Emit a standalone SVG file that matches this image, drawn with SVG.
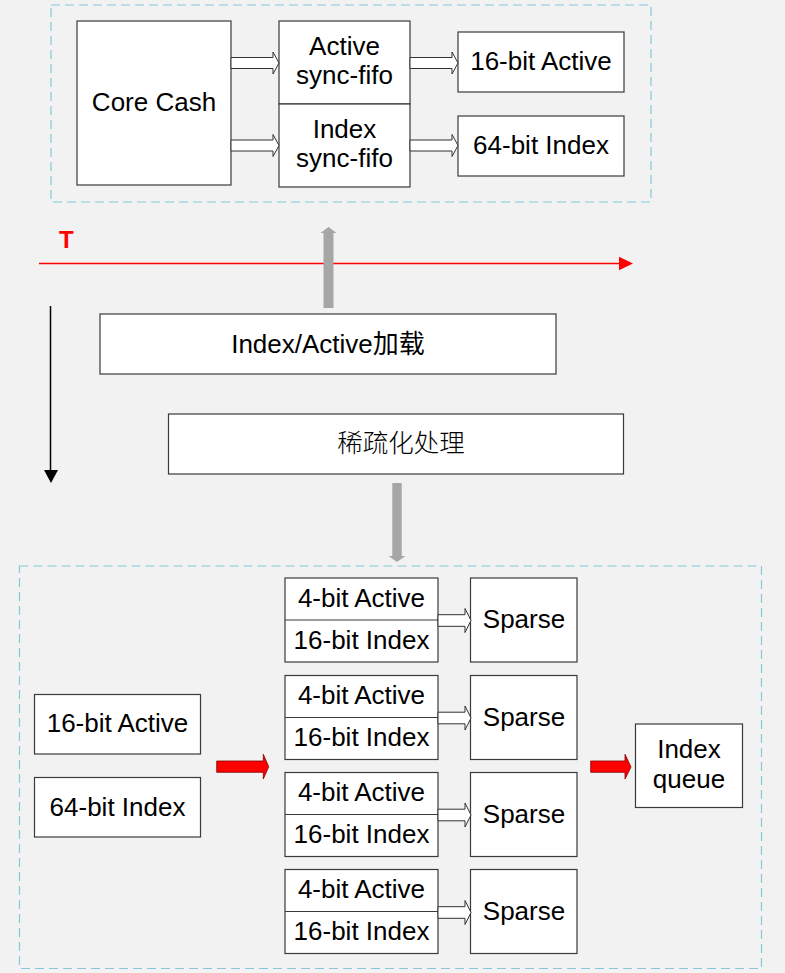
<svg xmlns="http://www.w3.org/2000/svg" width="785" height="973" viewBox="0 0 785 973">
<style>
.bg{fill:#f2f2f2}
.frame{fill:none;stroke:#86c8dc;stroke-width:1.2;stroke-dasharray:9 5}
.box{fill:#ffffff;stroke:#3a3a3a;stroke-width:1.2}
.div{stroke:#3a3a3a;stroke-width:1.2}
.t{font-family:"Liberation Sans",Arial,sans-serif;font-size:26px;fill:#000;text-anchor:middle}
.cjk{font-family:"Liberation Sans","Noto Sans CJK SC",sans-serif;font-size:26px;fill:#000;text-anchor:middle}
.cjk2{font-family:"Noto Sans CJK SC",sans-serif;font-size:25.5px;fill:#000;text-anchor:middle;font-weight:300}
.hollow{fill:#ffffff;stroke:#333333;stroke-width:1}
.gray{fill:#a6a6a6;stroke:none}
.red{fill:#ff0000;stroke:#7f0000;stroke-width:0.8}
</style>
<rect class="bg" x="0" y="0" width="785" height="973"/>

<g id="top-frame"><rect class="frame" x="51" y="5" width="600" height="197"/></g>
<g id="bottom-frame"><rect class="frame" x="19.5" y="566" width="742" height="402.5"/></g>

<g id="core-cash">
<rect class="box" x="77" y="21" width="154" height="164"/>
<text class="t" x="154" y="111">Core Cash</text>
</g>
<g id="active-fifo">
<rect class="box" x="279" y="21" width="131" height="83"/>
<text class="t" x="344.5" y="55">Active</text>
<text class="t" x="344.5" y="84">sync-fifo</text>
</g>
<g id="index-fifo">
<rect class="box" x="279" y="104" width="131" height="83"/>
<text class="t" x="344.5" y="138">Index</text>
<text class="t" x="344.5" y="167">sync-fifo</text>
</g>
<g id="top-16bit-active">
<rect class="box" x="458" y="32" width="166" height="60"/>
<text class="t" x="541" y="70">16-bit Active</text>
</g>
<g id="top-64bit-index">
<rect class="box" x="458" y="116" width="166" height="60"/>
<text class="t" x="541" y="154">64-bit Index</text>
</g>

<g id="time-label"><text x="59" y="248" style="font-family:'Liberation Sans',Arial,sans-serif;font-size:24px;font-weight:bold;fill:#ff0000">T</text></g>

<g id="load">
<rect class="box" x="100" y="314" width="456" height="60"/>
<text class="cjk" x="328" y="353">Index/Active加载</text>
</g>
<g id="sparse-proc">
<rect class="box" x="168.5" y="414" width="455" height="60"/>
<text class="cjk2" x="401" y="452">稀疏化处理</text>
</g>

<g id="bottom-16bit-active">
<rect class="box" x="34.5" y="694.5" width="166" height="59.5"/>
<text class="t" x="117.5" y="732">16-bit Active</text>
</g>
<g id="bottom-64bit-index">
<rect class="box" x="34.5" y="777.5" width="166" height="59.5"/>
<text class="t" x="117.5" y="815.5">64-bit Index</text>
</g>

<g id="lane1">
<rect class="box" x="285" y="578" width="153" height="84"/>
<line class="div" x1="285" y1="620" x2="438" y2="620"/>
<text class="t" x="361.5" y="606.5">4-bit Active</text>
<text class="t" x="361.5" y="648.5">16-bit Index</text>
</g>
<g id="sparse1">
<rect class="box" x="470.5" y="578" width="106.5" height="84"/>
<text class="t" x="524" y="628">Sparse</text>
</g>
<g id="lane2">
<rect class="box" x="285" y="675.5" width="153" height="84"/>
<line class="div" x1="285" y1="717.5" x2="438" y2="717.5"/>
<text class="t" x="361.5" y="704">4-bit Active</text>
<text class="t" x="361.5" y="746">16-bit Index</text>
</g>
<g id="sparse2">
<rect class="box" x="470.5" y="675.5" width="106.5" height="84"/>
<text class="t" x="524" y="725.5">Sparse</text>
</g>
<g id="lane3">
<rect class="box" x="285" y="772.5" width="153" height="84"/>
<line class="div" x1="285" y1="814.5" x2="438" y2="814.5"/>
<text class="t" x="361.5" y="801">4-bit Active</text>
<text class="t" x="361.5" y="843">16-bit Index</text>
</g>
<g id="sparse3">
<rect class="box" x="470.5" y="772.5" width="106.5" height="84"/>
<text class="t" x="524" y="822.5">Sparse</text>
</g>
<g id="lane4">
<rect class="box" x="285" y="869.5" width="153" height="84"/>
<line class="div" x1="285" y1="911.5" x2="438" y2="911.5"/>
<text class="t" x="361.5" y="898">4-bit Active</text>
<text class="t" x="361.5" y="940">16-bit Index</text>
</g>
<g id="sparse4">
<rect class="box" x="470.5" y="869.5" width="106.5" height="84"/>
<text class="t" x="524" y="919.5">Sparse</text>
</g>

<g id="index-queue">
<rect class="box" x="635.5" y="724" width="107" height="83.5"/>
<text class="t" x="689" y="758">Index</text>
<text class="t" x="689" y="787.5">queue</text>
</g>

<g id="connectors">
<polygon class="hollow" points="231,57.5 273,57.5 273,52 279,63 273,74 273,68.5 231,68.5"/>
<polygon class="hollow" points="231,140 273,140 273,134.5 279,145.5 273,156.5 273,151 231,151"/>
<polygon class="hollow" points="410,57.5 452,57.5 452,52 458,63 452,74 452,68.5 410,68.5"/>
<polygon class="hollow" points="410,140 452,140 452,134.5 458,145.5 452,156.5 452,151 410,151"/>

<line x1="39" y1="263.5" x2="621" y2="263.5" stroke="#ff0000" stroke-width="1.5"/>
<polygon points="619,256.7 633,263.5 619,270.3" fill="#ff0000"/>

<polygon class="gray" points="323.5,308 323.5,233 320.5,233 328.5,227 336.5,233 333.5,233 333.5,308"/>
<polygon class="gray" points="392.3,483 401.7,483 401.7,556 405.5,556 397,562 388.5,556 392.3,556"/>

<line x1="50.5" y1="306" x2="50.5" y2="471" stroke="#000" stroke-width="1.5"/>
<polygon points="44,470 58,470 51,483" fill="#000"/>

<polygon class="red" points="216.7,761 263.3,761 263.3,754.3 268.7,766.7 263.3,779 263.3,772.3 216.7,772.3"/>
<polygon class="red" points="590.7,761 625,761 625,754.3 631,767 625,779 625,772.3 590.7,772.3"/>

<polygon class="hollow" points="438,614.7 465,614.7 465,608.5 471,620.5 465,632.5 465,626.3 438,626.3"/>
<polygon class="hollow" points="438,712.2 465,712.2 465,706 471,718 465,730 465,723.8 438,723.8"/>
<polygon class="hollow" points="438,809.2 465,809.2 465,803 471,815 465,827 465,820.8 438,820.8"/>
<polygon class="hollow" points="438,906.7 465,906.7 465,900.5 471,912.5 465,924.5 465,918.3 438,918.3"/>
</g>
</svg>
